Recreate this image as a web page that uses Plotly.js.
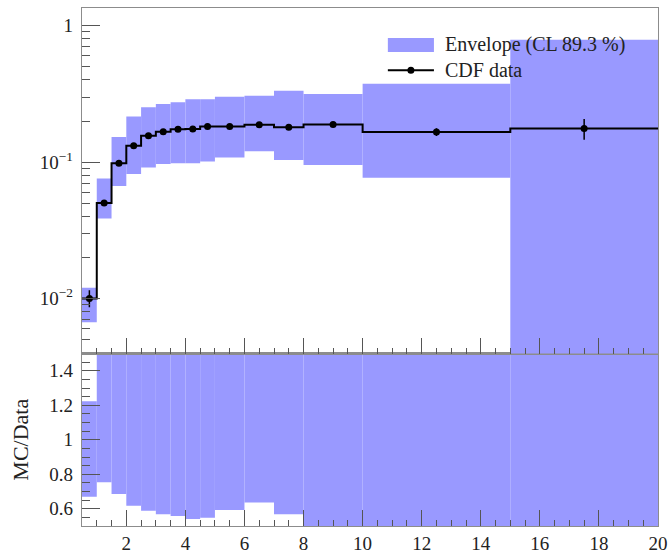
<!DOCTYPE html>
<html><head><meta charset="utf-8">
<script src="https://cdn.plot.ly/plotly-3.0.1.min.js"></script>
<style>html,body{margin:0;padding:0;background:#fff}</style>
</head><body>
<div id="chart" style="width:668px;height:553px"></div>
<script>
// ---- data ----
const binEdges    = [0.5, 1, 1.5, 2, 2.5, 3, 3.5, 4, 4.5, 5, 6, 7, 8, 10, 15, 20];
const binCenters  = [0.75, 1.25, 1.75, 2.25, 2.75, 3.25, 3.75, 4.25, 4.75, 5.5, 6.5, 7.5, 9, 12.5, 17.5];
const dataValues  = [0.0100, 0.050, 0.098, 0.132, 0.156, 0.167, 0.174, 0.175, 0.182, 0.182, 0.188, 0.180, 0.189, 0.166, 0.176];
const dataErrUp   = [0.0015, 0.002, 0.003, 0.003, 0.003, 0.003, 0.003, 0.003, 0.003, 0.003, 0.003, 0.003, 0.004, 0.011, 0.031];
const dataErrDown = [0.0014, 0.002, 0.003, 0.003, 0.003, 0.003, 0.003, 0.003, 0.003, 0.003, 0.003, 0.003, 0.004, 0.011, 0.030];
const envLow      = [0.0067, 0.0385, 0.0667, 0.0816, 0.0914, 0.0966, 0.098, 0.098, 0.101, 0.108, 0.120, 0.1035, 0.095, 0.0767, 0.001];
const envHigh     = [0.0120, 0.0759, 0.153, 0.216, 0.252, 0.267, 0.275, 0.289, 0.289, 0.301, 0.306, 0.334, 0.316, 0.375, 0.79];
const ratioLow    = [0.670, 0.754, 0.686, 0.618, 0.589, 0.568, 0.558, 0.540, 0.548, 0.593, 0.636, 0.568, 0.49, 0.40, 0.01];
const ratioHigh   = [1.223, 1.52, 1.56, 1.64, 1.62, 1.60, 1.58, 1.65, 1.59, 1.65, 1.63, 1.86, 1.67, 2.26, 4.5];
const xTickVals   = [2, 4, 6, 8, 10, 12, 14, 16, 18, 20];
const yTopTickVals = [0.01, 0.1, 1];
const yTopTickText = ['10<sup>\u22122</sup>', '10<sup>\u22121</sup>', '1'];
const yBotTickVals = [0.6, 0.8, 1, 1.2, 1.4];
const yBotTickText = ['0.6', '0.8', '1', '1.2', '1.4'];
const envLabel  = 'Envelope (CL 89.3 %)';
const dataLabel = 'CDF data';
const ratioTitle = 'MC/Data';

// ---- derived structures ----
const binWidths = binCenters.map((c, i) => binEdges[i + 1] - binEdges[i]);
const logMinor = [];
[0.001, 0.01, 0.1].forEach(d => { for (let k = 2; k <= 9; k++) logMinor.push(+(k * d).toPrecision(3)); });

const BAND = '#9999ff';
const FONT = 'Liberation Serif, DejaVu Serif, serif';
const LINE = '#8c8c8c';
const TICK = '#555';
const TICKFONT = { family: FONT, size: 19, color: '#222' };

const traces = [
  { type: 'bar', x: binCenters, width: binWidths, base: envLow,
    y: envHigh.map((h, i) => h - envLow[i]),
    xaxis: 'x2', yaxis: 'y2', marker: { color: BAND, line: { width: 0 } },
    hoverinfo: 'skip', name: envLabel },
  { type: 'bar', x: binCenters, width: binWidths, base: ratioLow,
    y: ratioHigh.map((h, i) => h - ratioLow[i]),
    xaxis: 'x', yaxis: 'y', marker: { color: BAND, line: { width: 0 } },
    hoverinfo: 'skip', name: envLabel },
  { type: 'scatter', mode: 'lines', x: binEdges, y: dataValues.concat([dataValues[dataValues.length - 1]]),
    line: { shape: 'hv', color: '#000', width: 2 }, xaxis: 'x2', yaxis: 'y2', hoverinfo: 'skip', name: dataLabel },
  { type: 'scatter', mode: 'markers', x: binCenters, y: dataValues,
    marker: { color: '#000', size: 7 },
    error_y: { type: 'data', symmetric: false, array: dataErrUp, arrayminus: dataErrDown, color: '#000', thickness: 1.5, width: 0 },
    xaxis: 'x2', yaxis: 'y2', name: dataLabel }
];

const botFrac = 0.333;
const xCommon = {
  range: [0.5, 20], tickmode: 'array', tickvals: xTickVals, ticks: 'inside', ticklen: 16, tickwidth: 1, tickcolor: TICK,
  minor: { dtick: 0.5, tick0: 0, ticks: 'inside', ticklen: 6, tickwidth: 1, tickcolor: TICK },
  showline: true, linecolor: LINE, linewidth: 1.2, mirror: true, showgrid: false, zeroline: false
};

const layout = {
  width: 668, height: 553,
  margin: { l: 82, r: 10, t: 8, b: 27 },
  paper_bgcolor: '#fff', plot_bgcolor: '#fff',
  font: { family: FONT, size: 19, color: '#222' },
  showlegend: false, barmode: 'overlay',
  xaxis: Object.assign({}, xCommon, { anchor: 'y', domain: [0, 1], tickfont: TICKFONT }),
  xaxis2: Object.assign({}, xCommon, { anchor: 'y2', domain: [0, 1], matches: 'x', showticklabels: false }),
  yaxis: {
    anchor: 'x', domain: [0, botFrac], range: [0.5, 1.5],
    tickmode: 'array', tickvals: yBotTickVals, ticktext: yBotTickText, tickfont: TICKFONT,
    ticks: 'inside', ticklen: 18, tickwidth: 1, tickcolor: TICK, ticklabelstandoff: 4,
    minor: { dtick: 0.05, tick0: 0, ticks: 'inside', ticklen: 8, tickwidth: 1, tickcolor: TICK },
    showline: true, linecolor: LINE, linewidth: 1.2, mirror: true, showgrid: false, zeroline: false,
    title: { text: ratioTitle, font: { family: FONT, size: 22, color: '#222' }, standoff: 14 }
  },
  yaxis2: {
    anchor: 'x2', domain: [botFrac, 1], type: 'log', range: [-2.404, 0.130],
    tickmode: 'array', tickvals: yTopTickVals, ticktext: yTopTickText, tickfont: TICKFONT,
    ticks: 'inside', ticklen: 18, tickwidth: 1, tickcolor: TICK, ticklabelstandoff: 4,
    minor: { tickmode: 'array', tickvals: logMinor, ticks: 'inside', ticklen: 8, tickwidth: 1, tickcolor: TICK },
    showline: true, linecolor: LINE, linewidth: 1.2, mirror: true, showgrid: false, zeroline: false
  },
  shapes: [
    { type: 'rect', xref: 'paper', yref: 'paper', x0: 0.531, x1: 0.611, y0: 0.915, y1: 0.942,
      fillcolor: BAND, line: { width: 0 } },
    { type: 'line', xref: 'paper', yref: 'paper', x0: 0.531, x1: 0.611, y0: 0.880, y1: 0.880,
      line: { color: '#000', width: 2 } },
    { type: 'circle', xref: 'paper', yref: 'paper', xsizemode: 'pixel', ysizemode: 'pixel',
      xanchor: 0.571, yanchor: 0.880, x0: -3.5, x1: 3.5, y0: -3.5, y1: 3.5,
      fillcolor: '#000', line: { width: 0 } }
  ],
  annotations: [
    { xref: 'paper', yref: 'paper', x: 0.626, y: 0.929, xanchor: 'left', yanchor: 'middle',
      text: envLabel, showarrow: false, font: { family: FONT, size: 20, color: '#222' } },
    { xref: 'paper', yref: 'paper', x: 0.626, y: 0.880, xanchor: 'left', yanchor: 'middle',
      text: dataLabel, showarrow: false, font: { family: FONT, size: 20, color: '#222' } }
  ]
};

Plotly.newPlot('chart', traces, layout, { staticPlot: true, displayModeBar: false });
</script>
</body></html>
